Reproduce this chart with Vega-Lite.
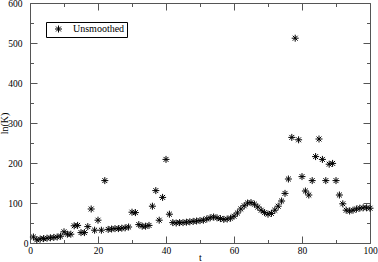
{
  "$schema": "https://vega.github.io/schema/vega-lite/v6.json",
  "width": 340,
  "height": 240,
  "autosize": {"type": "none"},
  "padding": {"left": 30, "top": 3, "right": 8, "bottom": 19},
  "background": "white",
  "config": {
    "view": {"stroke": "#555", "strokeWidth": 1},
    "axis": {
      "domain": false,
      "grid": false,
      "tickColor": "#555",
      "tickWidth": 1,
      "labelFont": "Liberation Serif",
      "labelFontSize": 9.5,
      "labelColor": "black",
      "titleFont": "Liberation Serif",
      "titleFontSize": 10,
      "titleFontWeight": "normal",
      "titleColor": "black",
      "labelFlush": false,
      "labelOverlap": false
    }
  },
  "data": {
    "values": [
      {"t": 1, "lnK": 15, "series": "Unsmoothed"},
      {"t": 2, "lnK": 8, "series": "Unsmoothed"},
      {"t": 3, "lnK": 10, "series": "Unsmoothed"},
      {"t": 4, "lnK": 11, "series": "Unsmoothed"},
      {"t": 5, "lnK": 12, "series": "Unsmoothed"},
      {"t": 6, "lnK": 13, "series": "Unsmoothed"},
      {"t": 7, "lnK": 14, "series": "Unsmoothed"},
      {"t": 8, "lnK": 15, "series": "Unsmoothed"},
      {"t": 9, "lnK": 17, "series": "Unsmoothed"},
      {"t": 10, "lnK": 28, "series": "Unsmoothed"},
      {"t": 11, "lnK": 22, "series": "Unsmoothed"},
      {"t": 12, "lnK": 22, "series": "Unsmoothed"},
      {"t": 13, "lnK": 43, "series": "Unsmoothed"},
      {"t": 14, "lnK": 44, "series": "Unsmoothed"},
      {"t": 15, "lnK": 26, "series": "Unsmoothed"},
      {"t": 16, "lnK": 26, "series": "Unsmoothed"},
      {"t": 17, "lnK": 41, "series": "Unsmoothed"},
      {"t": 18, "lnK": 85, "series": "Unsmoothed"},
      {"t": 19, "lnK": 32, "series": "Unsmoothed"},
      {"t": 20, "lnK": 57, "series": "Unsmoothed"},
      {"t": 21, "lnK": 32, "series": "Unsmoothed"},
      {"t": 22, "lnK": 156, "series": "Unsmoothed"},
      {"t": 23, "lnK": 34, "series": "Unsmoothed"},
      {"t": 24, "lnK": 35, "series": "Unsmoothed"},
      {"t": 25, "lnK": 36, "series": "Unsmoothed"},
      {"t": 26, "lnK": 36, "series": "Unsmoothed"},
      {"t": 27, "lnK": 37, "series": "Unsmoothed"},
      {"t": 28, "lnK": 38, "series": "Unsmoothed"},
      {"t": 29, "lnK": 40, "series": "Unsmoothed"},
      {"t": 30, "lnK": 77, "series": "Unsmoothed"},
      {"t": 31, "lnK": 76, "series": "Unsmoothed"},
      {"t": 32, "lnK": 46, "series": "Unsmoothed"},
      {"t": 33, "lnK": 42, "series": "Unsmoothed"},
      {"t": 34, "lnK": 42, "series": "Unsmoothed"},
      {"t": 35, "lnK": 44, "series": "Unsmoothed"},
      {"t": 36, "lnK": 92, "series": "Unsmoothed"},
      {"t": 37, "lnK": 131, "series": "Unsmoothed"},
      {"t": 38, "lnK": 57, "series": "Unsmoothed"},
      {"t": 39, "lnK": 114, "series": "Unsmoothed"},
      {"t": 40, "lnK": 209, "series": "Unsmoothed"},
      {"t": 41, "lnK": 72, "series": "Unsmoothed"},
      {"t": 42, "lnK": 51, "series": "Unsmoothed"},
      {"t": 43, "lnK": 50, "series": "Unsmoothed"},
      {"t": 44, "lnK": 51, "series": "Unsmoothed"},
      {"t": 45, "lnK": 51, "series": "Unsmoothed"},
      {"t": 46, "lnK": 52, "series": "Unsmoothed"},
      {"t": 47, "lnK": 53, "series": "Unsmoothed"},
      {"t": 48, "lnK": 54, "series": "Unsmoothed"},
      {"t": 49, "lnK": 55, "series": "Unsmoothed"},
      {"t": 50, "lnK": 56, "series": "Unsmoothed"},
      {"t": 51, "lnK": 57, "series": "Unsmoothed"},
      {"t": 52, "lnK": 60, "series": "Unsmoothed"},
      {"t": 53, "lnK": 63, "series": "Unsmoothed"},
      {"t": 54, "lnK": 65, "series": "Unsmoothed"},
      {"t": 55, "lnK": 63, "series": "Unsmoothed"},
      {"t": 56, "lnK": 61, "series": "Unsmoothed"},
      {"t": 57, "lnK": 59, "series": "Unsmoothed"},
      {"t": 58, "lnK": 60, "series": "Unsmoothed"},
      {"t": 59, "lnK": 62, "series": "Unsmoothed"},
      {"t": 60, "lnK": 67, "series": "Unsmoothed"},
      {"t": 61, "lnK": 75, "series": "Unsmoothed"},
      {"t": 62, "lnK": 85, "series": "Unsmoothed"},
      {"t": 63, "lnK": 93, "series": "Unsmoothed"},
      {"t": 64, "lnK": 100, "series": "Unsmoothed"},
      {"t": 65, "lnK": 101, "series": "Unsmoothed"},
      {"t": 66, "lnK": 97, "series": "Unsmoothed"},
      {"t": 67, "lnK": 90, "series": "Unsmoothed"},
      {"t": 68, "lnK": 82, "series": "Unsmoothed"},
      {"t": 69, "lnK": 76, "series": "Unsmoothed"},
      {"t": 70, "lnK": 72, "series": "Unsmoothed"},
      {"t": 71, "lnK": 74, "series": "Unsmoothed"},
      {"t": 72, "lnK": 82, "series": "Unsmoothed"},
      {"t": 73, "lnK": 92, "series": "Unsmoothed"},
      {"t": 74, "lnK": 105, "series": "Unsmoothed"},
      {"t": 75, "lnK": 124, "series": "Unsmoothed"},
      {"t": 76, "lnK": 160, "series": "Unsmoothed"},
      {"t": 77, "lnK": 264, "series": "Unsmoothed"},
      {"t": 78, "lnK": 512, "series": "Unsmoothed"},
      {"t": 79, "lnK": 258, "series": "Unsmoothed"},
      {"t": 80, "lnK": 166, "series": "Unsmoothed"},
      {"t": 81, "lnK": 130, "series": "Unsmoothed"},
      {"t": 82, "lnK": 120, "series": "Unsmoothed"},
      {"t": 83, "lnK": 156, "series": "Unsmoothed"},
      {"t": 84, "lnK": 216, "series": "Unsmoothed"},
      {"t": 85, "lnK": 260, "series": "Unsmoothed"},
      {"t": 86, "lnK": 209, "series": "Unsmoothed"},
      {"t": 87, "lnK": 156, "series": "Unsmoothed"},
      {"t": 88, "lnK": 197, "series": "Unsmoothed"},
      {"t": 89, "lnK": 199, "series": "Unsmoothed"},
      {"t": 90, "lnK": 156, "series": "Unsmoothed"},
      {"t": 91, "lnK": 120, "series": "Unsmoothed"},
      {"t": 92, "lnK": 98, "series": "Unsmoothed"},
      {"t": 93, "lnK": 82, "series": "Unsmoothed"},
      {"t": 94, "lnK": 80, "series": "Unsmoothed"},
      {"t": 95, "lnK": 82, "series": "Unsmoothed"},
      {"t": 96, "lnK": 85, "series": "Unsmoothed"},
      {"t": 97, "lnK": 87, "series": "Unsmoothed"},
      {"t": 98, "lnK": 88, "series": "Unsmoothed"},
      {"t": 99, "lnK": 88, "series": "Unsmoothed"},
      {"t": 100, "lnK": 87, "series": "Unsmoothed"}
    ]
  },
  "layer": [
    {
      "mark": {
        "type": "point",
        "shape": "M-1,0H1M0,-1V1M-0.7,-0.7L0.7,0.7M-0.7,0.7L0.7,-0.7",
        "filled": false,
        "size": 49,
        "strokeWidth": 1,
        "opacity": 1
      },
      "encoding": {
        "x": {
          "field": "t",
          "type": "quantitative",
          "scale": {"domain": [0, 100], "nice": false, "zero": false},
          "axis": {
            "orient": "bottom",
            "title": "t",
            "values": [0, 10, 20, 30, 40, 50, 60, 70, 80, 90, 100],
            "tickSize": {"condition": {"test": "datum.value % 20 === 0", "value": -7}, "value": -3.5},
            "labelPadding": 9,
            "labelExpr": "datum.value % 20 === 0 ? datum.label : ''",
            "titleY": 9,
            "titleBaseline": "top"
          }
        },
        "y": {
          "field": "lnK",
          "type": "quantitative",
          "scale": {"domain": [0, 600], "nice": false, "zero": false},
          "axis": {
            "orient": "left",
            "title": "ln(K)",
            "values": [0, 50, 100, 150, 200, 250, 300, 350, 400, 450, 500, 550, 600],
            "tickSize": {"condition": {"test": "datum.value % 100 === 0", "value": -7}, "value": -3.5},
            "labelPadding": {"condition": {"test": "datum.value === 0", "value": 9}, "value": 15},
            "labelBaseline": "middle",
            "labelExpr": "datum.value % 100 === 0 ? datum.label : ''",
            "titleX": -21,
            "titleY": 120,
            "titleAngle": -90,
            "titleBaseline": "bottom",
            "titleAlign": "center"
          }
        },
        "color": {
          "field": "series",
          "type": "nominal",
          "scale": {"range": ["black"]},
          "legend": {
            "orient": "none",
            "legendX": 16,
            "legendY": 19,
            "title": null,
            "padding": 2,
            "strokeColor": "black",
            "fillColor": "white",
            "symbolType": "M-1,0H1M0,-1V1M-0.7,-0.7L0.7,0.7M-0.7,0.7L0.7,-0.7",
            "symbolSize": 49,
            "symbolStrokeWidth": 1,
            "symbolStrokeColor": "black",
            "symbolFillColor": "transparent",
            "symbolOffset": 5.5,
            "labelOffset": 9.5,
            "labelFont": "Liberation Serif",
            "labelFontSize": 10,
            "labelColor": "black"
          }
        }
      }
    },
    {
      "mark": {"type": "point", "opacity": 0},
      "encoding": {
        "x": {
          "field": "t",
          "type": "quantitative",
          "axis": {
            "orient": "top",
            "title": null,
            "labels": false,
            "values": [0, 10, 20, 30, 40, 50, 60, 70, 80, 90, 100],
            "tickSize": {"condition": {"test": "datum.value % 20 === 0", "value": -7}, "value": -3.5}
          }
        },
        "y": {
          "field": "lnK",
          "type": "quantitative",
          "axis": {
            "orient": "right",
            "title": null,
            "labels": false,
            "values": [0, 50, 100, 150, 200, 250, 300, 350, 400, 450, 500, 550, 600],
            "tickSize": {"condition": {"test": "datum.value % 100 === 0", "value": -7}, "value": -3.5}
          }
        }
      }
    }
  ],
  "resolve": {"axis": {"x": "independent", "y": "independent"}}
}
